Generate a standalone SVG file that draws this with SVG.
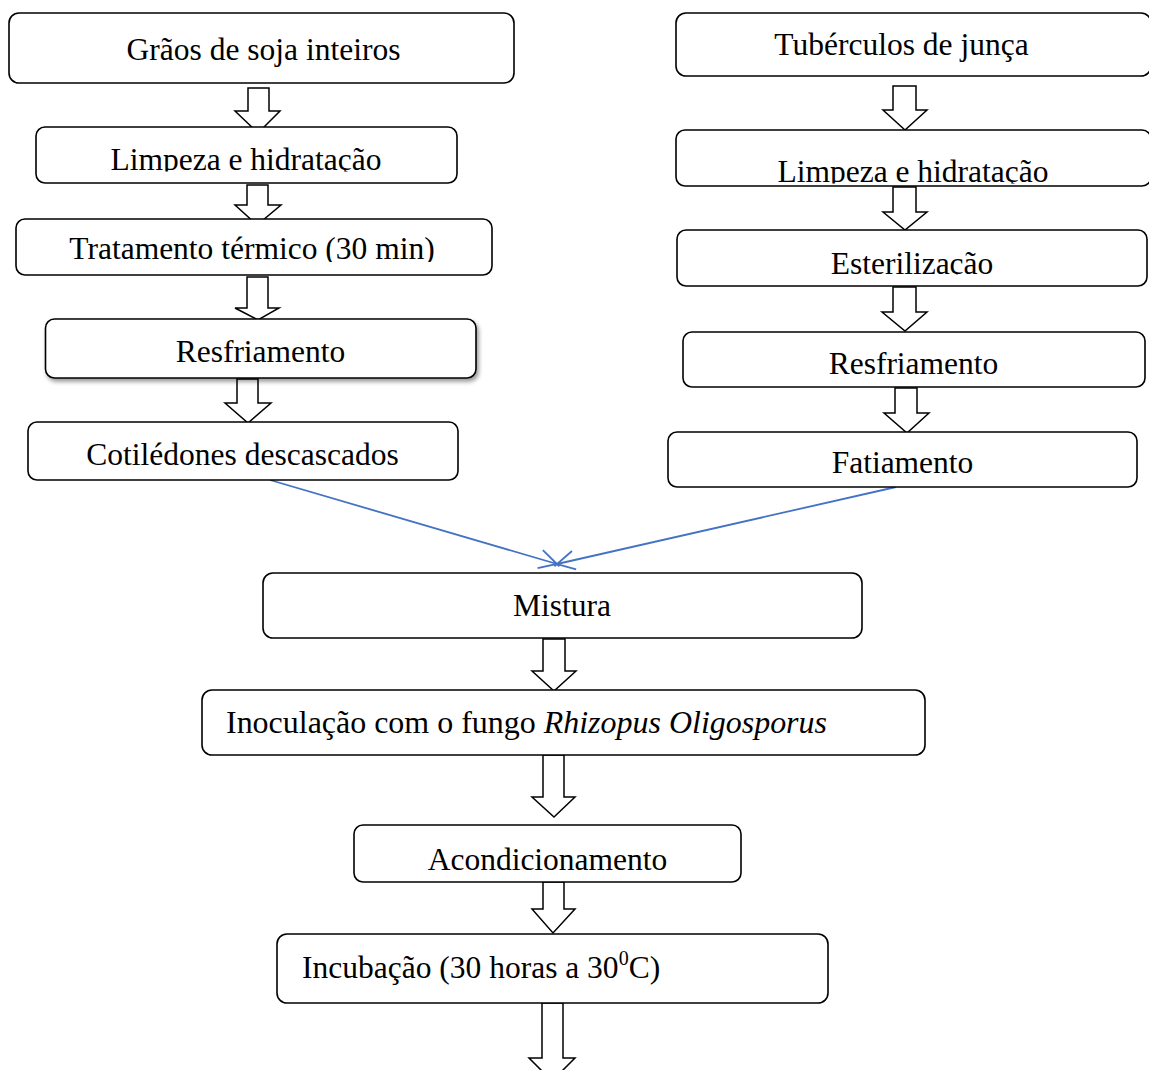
<svg xmlns="http://www.w3.org/2000/svg" width="1149" height="1070" viewBox="0 0 1149 1070">
<style>
.box{fill:#fff;stroke:#000;stroke-width:1.6}
.blk{fill:#fff;stroke:#000;stroke-width:1.5;stroke-linejoin:miter}
.t{font-family:"Liberation Serif","Times New Roman",serif;font-size:31.5px;fill:#000}
.c{text-anchor:middle}
.link{fill:none;stroke:#4472C4;stroke-width:1.8}
</style>
<defs>
<marker id="open" markerUnits="userSpaceOnUse" markerWidth="26" markerHeight="26" viewBox="0 0 26 26" refX="20" refY="13" orient="auto">
<path d="M2.5,3.6 L20,13 L2.5,22.4 M20,13 L23,14.6 M20,13 L23,11.4" fill="none" stroke="#4472C4" stroke-width="1.8"/>
</marker>
<filter id="sh" x="-5%" y="-20%" width="115%" height="150%">
<feDropShadow dx="2" dy="3" stdDeviation="2.2" flood-color="#000" flood-opacity="0.4"/>
</filter>
<clipPath id="cL2"><rect x="36" y="127" width="421" height="44.5"/></clipPath>
<clipPath id="cL3"><rect x="16" y="219" width="476" height="43"/></clipPath>
<clipPath id="cR2"><rect x="676" y="130" width="475" height="53.5"/></clipPath>
<clipPath id="cR3"><rect x="677" y="230" width="470" height="44.5"/></clipPath>
</defs>

<g id="connectors">
<path class="blk" d="M248,88 L269,88 L269,111 L280,111 L258,133 L235,111 L248,111 Z"/>
<path class="blk" d="M247,185 L268,185 L268,205 L281,205 L257,225 L235,205 L247,205 Z"/>
<path class="blk" d="M247,277 L268,277 L268,308 L279,308 L258,320 L235,308 L247,308 Z"/>
<path class="blk" d="M237,379 L258,379 L258,403 L271,403 L248,423 L225,403 L237,403 Z"/>
<path class="blk" d="M893,86 L916,86 L916,110 L927,110 L905,130 L883,110 L893,110 Z"/>
<path class="blk" d="M893,187 L916,187 L916,212 L927,212 L905,230 L883,212 L893,212 Z"/>
<path class="blk" d="M893,287 L916,287 L916,312 L927,312 L905,331 L882,312 L893,312 Z"/>
<path class="blk" d="M895,388 L917,388 L917,413 L929,413 L907,433 L884,413 L895,413 Z"/>
<path class="blk" d="M543,639 L565,639 L565,671 L576,671 L554,691 L532,671 L543,671 Z"/>
<path class="blk" d="M543,755 L564,755 L564,797 L575,797 L554,817 L532,797 L543,797 Z"/>
<path class="blk" d="M543,882 L564,882 L564,909 L575,909 L553,933 L532,909 L543,909 Z"/>
<path class="blk" d="M542,1003 L563,1003 L563,1058 L575,1058 L552,1081 L529,1058 L542,1058 Z"/>
<line class="link" x1="270" y1="480" x2="557" y2="564" marker-end="url(#open)"/>
<line class="link" x1="896" y1="487" x2="557" y2="564" marker-end="url(#open)"/>
</g>

<g id="graos">
<rect class="box" x="9" y="13" width="505" height="70" rx="10"/>
<text class="t c" x="263.5" y="60">Grãos de soja inteiros</text>
</g>
<g id="limpeza1">
<rect class="box" x="36" y="127" width="421" height="56" rx="9"/>
<text class="t c" x="246" y="170" clip-path="url(#cL2)">Limpeza e hidratação</text>
</g>
<g id="tratamento">
<rect class="box" x="16" y="219" width="476" height="56" rx="9"/>
<text class="t c" x="252" y="259" clip-path="url(#cL3)">Tratamento térmico (30 min)</text>
</g>
<g id="resfriamento1">
<rect class="box" x="45.5" y="319" width="430.5" height="59" rx="9" filter="url(#sh)"/>
<text class="t c" x="260.5" y="362">Resfriamento</text>
</g>
<g id="cotiledones">
<rect class="box" x="28" y="422" width="430" height="58" rx="9"/>
<text class="t c" x="242.5" y="465">Cotilédones descascados</text>
</g>

<g id="tuberculos">
<rect class="box" x="676" y="13" width="475" height="63" rx="10"/>
<text class="t c" x="901.5" y="55">Tubérculos de junça</text>
</g>
<g id="limpeza2">
<rect class="box" x="676" y="130" width="475" height="56" rx="9"/>
<text class="t c" x="913" y="182" clip-path="url(#cR2)">Limpeza e hidratação</text>
</g>
<g id="esterilizacao">
<rect class="box" x="677" y="230" width="470" height="56" rx="9"/>
<text class="t c" x="912" y="273.5" clip-path="url(#cR3)">Esterilização</text>
</g>
<g id="resfriamento2">
<rect class="box" x="683" y="332" width="462" height="55" rx="9"/>
<text class="t c" x="913.5" y="374">Resfriamento</text>
</g>
<g id="fatiamento">
<rect class="box" x="668" y="432" width="469" height="55" rx="9"/>
<text class="t c" x="902.5" y="473">Fatiamento</text>
</g>

<g id="mistura">
<rect class="box" x="263" y="573" width="599" height="65" rx="10"/>
<text class="t c" x="562" y="616">Mistura</text>
</g>
<g id="inoculacao">
<rect class="box" x="202" y="690" width="723" height="65" rx="10"/>
<text class="t" x="226" y="733" textLength="601" lengthAdjust="spacingAndGlyphs">Inoculação com o fungo <tspan font-style="italic">Rhizopus Oligosporus</tspan></text>
</g>
<g id="acondicionamento">
<rect class="box" x="354" y="825" width="387" height="57" rx="9"/>
<text class="t c" x="547.5" y="870">Acondicionamento</text>
</g>
<g id="incubacao">
<rect class="box" x="277" y="934" width="551" height="69" rx="10"/>
<text class="t" x="302" y="978">Incubação (30 horas a 30<tspan font-size="20" dy="-13">0</tspan><tspan dy="13">C)</tspan></text>
</g>
</svg>
